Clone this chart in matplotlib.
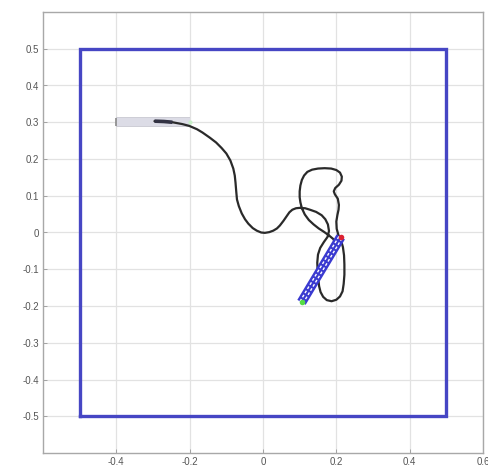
import numpy as np
import matplotlib
matplotlib.use("Agg")
import matplotlib.pyplot as plt
import matplotlib.patheffects as pe

# Arena boundary (blue square)
arena_x = [-0.5, 0.5, 0.5, -0.5, -0.5]
arena_y = [-0.5, -0.5, 0.5, 0.5, -0.5]

# Initial body (gray bar) and its ends
init_body_x = [-0.40, -0.20]
init_body_y = [0.30, 0.30]

# Trajectory (black line)
traj_x = [-0.296, -0.270, -0.247, -0.220, -0.201, -0.180, -0.165, -0.145, -0.128, -0.113,
          -0.100, -0.089, -0.081, -0.077, -0.075, -0.073, -0.071, -0.066, -0.058, -0.049,
          -0.040, -0.028, -0.017, -0.005, 0.005, 0.017, 0.028, 0.038, 0.046, 0.056,
          0.065, 0.072, 0.080, 0.090, 0.100, 0.115, 0.128, 0.145, 0.160, 0.170,
          0.177, 0.180, 0.176, 0.166, 0.156, 0.150, 0.148, 0.149, 0.151, 0.153,
          0.157, 0.164, 0.174, 0.187, 0.200, 0.210, 0.217, 0.220, 0.222, 0.222,
          0.221, 0.218, 0.213, 0.206, 0.201, 0.200, 0.203, 0.206, 0.207, 0.204,
          0.196, 0.193, 0.197, 0.207, 0.214, 0.215, 0.210, 0.200, 0.186, 0.168,
          0.150, 0.134, 0.121, 0.112, 0.106, 0.102, 0.100, 0.100, 0.102, 0.106,
          0.114, 0.125, 0.138, 0.152, 0.166, 0.180, 0.192, 0.198, 0.195, 0.186,
          0.175, 0.163]
traj_y = [0.303, 0.302, 0.300, 0.295, 0.290, 0.281, 0.272, 0.258, 0.245, 0.230,
          0.215, 0.196, 0.174, 0.155, 0.136, 0.112, 0.090, 0.072, 0.052, 0.036,
          0.024, 0.012, 0.005, 0.000, -0.001, 0.001, 0.005, 0.011, 0.019, 0.032,
          0.045, 0.055, 0.062, 0.066, 0.067, 0.066, 0.062, 0.056, 0.047, 0.036,
          0.022, 0.004, -0.012, -0.026, -0.042, -0.060, -0.082, -0.105, -0.128, -0.146,
          -0.162, -0.175, -0.184, -0.187, -0.183, -0.174, -0.160, -0.140, -0.115, -0.087,
          -0.062, -0.040, -0.022, -0.008, 0.010, 0.030, 0.048, 0.062, 0.075, 0.092,
          0.104, 0.112, 0.121, 0.130, 0.141, 0.152, 0.163, 0.170, 0.174, 0.175,
          0.174, 0.171, 0.165, 0.155, 0.143, 0.128, 0.112, 0.096, 0.082, 0.066,
          0.049, 0.034, 0.022, 0.011, 0.002, -0.008, -0.018, -0.032, -0.050, -0.068,
          -0.085, -0.098]

# Final body (blue striped bar): tail (green) and head (red)
final_body_x = [0.105, 0.212]
final_body_y = [-0.190, -0.012]

xticks = [-0.4, -0.2, 0, 0.2, 0.4, 0.6]
xticklabels = ["-0.4", "-0.2", "0", "0.2", "0.4", "0.6"]
yticks = [-0.5, -0.4, -0.3, -0.2, -0.1, 0, 0.1, 0.2, 0.3, 0.4, 0.5]
yticklabels = ["-0.5", "-0.4", "-0.3", "-0.2", "-0.1", "0", "0.1", "0.2", "0.3", "0.4", "0.5"]

plt.rcParams['font.family'] = ['Liberation Sans', 'DejaVu Sans']

fig = plt.figure(figsize=(4.88, 4.69), dpi=100)
ax = fig.add_axes([43/488, 16/469, 440/488, 441/469])
ax.set_xlim(-0.6, 0.6)
ax.set_ylim(-0.6, 0.6)

ax.set_xticks(xticks)
ax.set_xticklabels(xticklabels)
ax.set_yticks(yticks)
ax.set_yticklabels(yticklabels)
ax.tick_params(direction='in', length=3, width=0.6, colors='#999999',
               labelcolor='#555555', labelsize=7, pad=3)
ax.grid(True, color='#e2e2e2', lw=0.9)
ax.set_axisbelow(True)
for s in ax.spines.values():
    s.set_color('#a8a8a8')
    s.set_linewidth(1.0)

# arena
ax.plot(arena_x, arena_y, color='#4646c4', lw=2.4, solid_joinstyle='miter')

# initial body
ax.plot(init_body_x, init_body_y, color='#dcdce6', lw=6, solid_capstyle='butt',
        path_effects=[pe.Stroke(linewidth=7, foreground='#c4c4cc'), pe.Normal()])
ax.plot([init_body_x[0]], [init_body_y[0]], marker='|', ms=6, color='#888888', mew=1.2)
ax.plot([init_body_x[1]], [init_body_y[1]], marker='o', ms=3, color='#c8f0c8', mew=0)

# trajectory
ax.plot(traj_x, traj_y, color='#2a2a2a', lw=1.6, solid_joinstyle='round',
        solid_capstyle='round')
ax.plot(traj_x[:3], traj_y[:3], color='#333344', lw=2.6, solid_capstyle='butt')

# final body
fx = np.array(final_body_x)
fy = np.array(final_body_y)
dx, dy = fx[1] - fx[0], fy[1] - fy[0]
L = np.hypot(dx, dy)
nx, ny = -dy / L, dx / L
ax.plot(fx, fy, color='#3a3ad0', lw=7, solid_capstyle='butt')
for off in (-0.0048, 0.0048):
    ax.plot(fx + nx * off, fy + ny * off, color='white', lw=1.0,
            ls=(0, (2, 1.5)))
ax.plot([fx[0]], [fy[0]], marker='o', ms=4, color='#55dd44', mew=0)
ax.plot([fx[1]], [fy[1]], marker='o', ms=4, color='#dd2233', mew=0)

fig.savefig("out.png", dpi=100)
